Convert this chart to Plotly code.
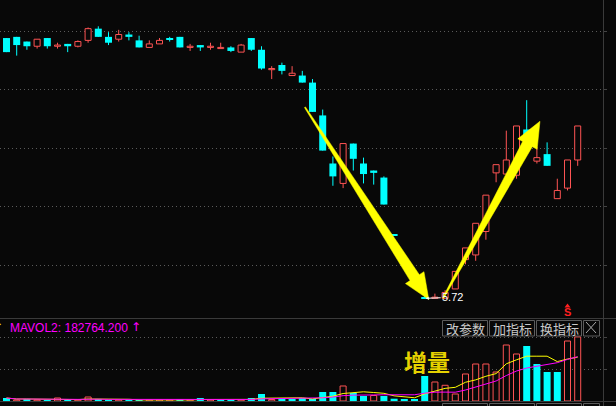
import math
import plotly.graph_objects as go
import pandas as pd

# ---------------- data ----------------
day = list(range(1, 58))
open_ = [7.94, 7.95, 7.91, 7.87, 7.94, 7.87, 7.89, 7.87, 7.92, 8.02,
         7.95, 7.93, 7.97, 7.92, 7.86, 7.89, 7.94, 7.95, 7.86, 7.88,
         7.86, 7.85, 7.86, 7.82, 7.94, 7.84, 7.67, 7.71, 7.62, 7.62,
         7.56, 7.28, 6.87, 6.70, 7.04, 6.87, 6.81, 6.75, 6.26, 6.05,
         5.83, 5.73, 5.72, 5.72, 5.80, 6.05, 6.09, 6.29, 6.79, 6.78,
         6.77, 7.16, 6.89, 6.95, 6.57, 6.66, 6.90]
high = [7.94, 7.95, 7.91, 7.93, 7.94, 7.90, 7.89, 7.92, 8.03, 8.04,
        7.99, 8.01, 7.99, 7.96, 7.92, 7.94, 7.95, 7.95, 7.89, 7.88,
        7.90, 7.90, 7.87, 7.89, 7.94, 7.87, 7.70, 7.73, 7.70, 7.66,
        7.59, 7.33, 6.93, 7.04, 7.04, 6.92, 6.81, 6.76, 6.26, 6.05,
        5.83, 5.74, 5.76, 5.79, 5.95, 6.15, 6.36, 6.60, 6.86, 7.15,
        7.19, 7.41, 7.01, 7.05, 6.74, 6.90, 7.19]
low = [7.82, 7.79, 7.84, 7.85, 7.85, 7.85, 7.82, 7.86, 7.90, 7.95,
       7.88, 7.91, 7.92, 7.86, 7.86, 7.89, 7.91, 7.86, 7.83, 7.83,
       7.84, 7.85, 7.82, 7.82, 7.83, 7.67, 7.59, 7.63, 7.62, 7.56,
       7.31, 6.98, 6.68, 6.66, 6.81, 6.70, 6.69, 6.52, 6.26, 6.05,
       5.83, 5.72, 5.72, 5.72, 5.80, 6.01, 6.04, 6.22, 6.71, 6.78,
       6.74, 6.99, 6.87, 6.85, 6.57, 6.64, 6.85]
close = [7.82, 7.88, 7.87, 7.93, 7.87, 7.88, 7.87, 7.91, 8.02, 7.95,
         7.90, 7.97, 7.95, 7.86, 7.89, 7.92, 7.93, 7.86, 7.87, 7.86,
         7.87, 7.86, 7.83, 7.88, 7.84, 7.68, 7.68, 7.66, 7.64, 7.56,
         7.31, 6.98, 6.76, 7.04, 6.91, 6.78, 6.79, 6.52, 6.26, 6.05,
         5.83, 5.72, 5.73, 5.77, 5.95, 6.15, 6.36, 6.60, 6.86, 6.90,
         7.19, 6.99, 6.92, 6.85, 6.64, 6.90, 7.19]
volume = [12400, 4100, 8300, 4100, 4100, 12400, 4100, 4100, 16500, 6200,
          4100, 4100, 4100, 4100, 4100, 4100, 4100, 6200, 4100, 12400,
          4100, 6200, 6200, 4100, 12400, 28900, 6200, 12400, 6200, 12400,
          6200, 37100, 37100, 61900, 33000, 20600, 22700, 20600, 9500, 7000,
          7000, 103100, 78400, 64800, 28900, 111400, 152600, 152600, 119600, 231000,
          193900, 226900, 152600, 119600, 119600, 247500, 264342]
price_grid = [6.0, 6.5, 7.0, 7.5, 8.0]
volume_grid = [132000, 264000]
low_label = "5.72"
mavol2_label = "MAVOL2: 182764.200"
buttons = ["改参数", "加指标", "换指标"]
tag_text = "增量"

# ---------------- styling / geometry ----------------
W, H = 616, 406
BG = "#080808"
RED = "#FF5454"
CYAN = "#00FFFF"
YEL = "#FFFF00"
MAG = "#FF00FF"
GRID = "#5a5a5a"
LINE = "#3a3a3a"
X_RIGHT = 603
X_RANGE = [0.3627, 59.48]
Y_RANGE = [5.5522, 8.2644]
V_RANGE = [0, 334125]
MAIN_DOM = [1 - 318 / H, 1.0]
VOL_DOM = [1 - 401 / H, 1 - 320 / H]

n = len(day)
cdir = []
for i in range(n):
    if close[i] > open_[i]:
        cdir.append(1)
    elif close[i] < open_[i]:
        cdir.append(-1)
    else:
        cdir.append(1 if (i > 0 and close[i] > close[i - 1]) else -1)
vdir = [cdir[0]] + [1 if close[i] > close[i - 1] else (-1 if close[i] < close[i - 1] else cdir[i])
                    for i in range(1, n)]

MINH = 0.009
fig = go.Figure()

# candle wicks
rx, ry, cx, cy = [], [], [], []
for i in range(n):
    top, bot = max(open_[i], close[i]), min(open_[i], close[i])
    if cdir[i] == 1:
        rx += [day[i], day[i], None, day[i], day[i], None]
        ry += [high[i], top, None, bot, low[i], None]
    else:
        cx += [day[i], day[i], None]
        cy += [high[i], low[i], None]
fig.add_trace(go.Scatter(x=rx, y=ry, mode="lines", line=dict(color=RED, width=1),
                         hoverinfo="skip", connectgaps=False))
fig.add_trace(go.Scatter(x=cx, y=cy, mode="lines", line=dict(color=CYAN, width=1),
                         hoverinfo="skip", connectgaps=False))

# candle bodies
ri = [i for i in range(n) if cdir[i] == 1]
ci = [i for i in range(n) if cdir[i] == -1]
fig.add_trace(go.Bar(x=[day[i] for i in ri], base=[open_[i] for i in ri],
                     y=[max(close[i] - open_[i], MINH) for i in ri], width=0.59,
                     marker=dict(color=BG, line=dict(color=RED, width=1))))
fig.add_trace(go.Bar(x=[day[i] for i in ci],
                     base=[min(open_[i], close[i]) - (MINH / 2 if open_[i] == close[i] else 0) for i in ci],
                     y=[max(open_[i] - close[i], MINH) for i in ci], width=0.686,
                     marker=dict(color=CYAN, line=dict(width=0))))

# volume bars
vr = [i for i in range(n) if vdir[i] == 1]
vc = [i for i in range(n) if vdir[i] == -1]
fig.add_trace(go.Bar(x=[day[i] for i in vr], y=[volume[i] for i in vr], width=0.59,
                     xaxis="x2", yaxis="y2",
                     marker=dict(color=BG, line=dict(color=RED, width=1))))
fig.add_trace(go.Bar(x=[day[i] for i in vc], y=[volume[i] for i in vc], width=0.686,
                     xaxis="x2", yaxis="y2",
                     marker=dict(color=CYAN, line=dict(width=0))))

vs = pd.Series(volume, dtype=float)
ma5 = vs.rolling(5, min_periods=1).mean().tolist()
ma10 = vs.rolling(10, min_periods=1).mean().tolist()
fig.add_trace(go.Scatter(x=day, y=ma5, mode="lines", line=dict(color=YEL, width=1),
                         xaxis="x2", yaxis="y2", hoverinfo="skip"))
fig.add_trace(go.Scatter(x=day, y=ma10, mode="lines", line=dict(color=MAG, width=1),
                         xaxis="x2", yaxis="y2", hoverinfo="skip"))


# ---------------- helpers for decorations ----------------
def data_px(xv, yv):
    px = (xv - X_RANGE[0]) / (X_RANGE[1] - X_RANGE[0]) * X_RIGHT
    fy = MAIN_DOM[0] + (yv - Y_RANGE[0]) / (Y_RANGE[1] - Y_RANGE[0]) * (MAIN_DOM[1] - MAIN_DOM[0])
    return px, (1 - fy) * H


def paper(px, py):
    return px / W, 1 - py / H


def arrow_path(tail, tip, head_len=26, head_half=11, neck_half=5.5, tail_half=0.6):
    tx, ty = data_px(*tail)
    px_, py_ = data_px(*tip)
    dx, dy = px_ - tx, py_ - ty
    L = math.hypot(dx, dy)
    ux, uy = dx / L, dy / L
    nx, ny = -uy, ux
    bx, by = px_ - ux * head_len, py_ - uy * head_len
    pts = [(tx + nx * tail_half, ty + ny * tail_half),
           (bx + nx * neck_half, by + ny * neck_half),
           (bx + nx * head_half, by + ny * head_half),
           (px_, py_),
           (bx - nx * head_half, by - ny * head_half),
           (bx - nx * neck_half, by - ny * neck_half),
           (tx - nx * tail_half, ty - ny * tail_half)]
    pp = [paper(a, b) for a, b in pts]
    return "M " + " L ".join(f"{a:.5f},{b:.5f}" for a, b in pp) + " Z"


shapes = []
# panel lines
shapes.append(dict(type="line", xref="paper", yref="paper", x0=0, x1=1,
                   y0=1 - 318.5 / H, y1=1 - 318.5 / H, line=dict(color=LINE, width=1)))
shapes.append(dict(type="line", xref="paper", yref="paper", x0=0, x1=1,
                   y0=1 - 401.5 / H, y1=1 - 401.5 / H, line=dict(color=LINE, width=1)))
shapes.append(dict(type="line", xref="paper", yref="paper", x0=603.5 / W, x1=603.5 / W,
                   y0=0, y1=1, line=dict(color=LINE, width=1)))

# yellow arrows
shapes.append(dict(type="path", xref="paper", yref="paper",
                   path=arrow_path((30.26, 7.35), (42.4, 5.71)),
                   fillcolor=YEL, line=dict(color=YEL, width=0.5)))
shapes.append(dict(type="path", xref="paper", yref="paper",
                   path=arrow_path((43.8, 5.72), (53.3, 7.23)),
                   fillcolor=YEL, line=dict(color=YEL, width=0.5)))

# buttons
btn_x = [(442, 487), (489, 534), (536, 581)]
for (x0, x1) in btn_x + [(583, 599)]:
    for (y0, y1) in [(320, 335.5), (403, 420)]:
        a0, b0 = paper(x0 + 0.5, y0 + 0.5)
        a1, b1 = paper(x1 + 0.5, y1 + 0.5)
        shapes.append(dict(type="rect", xref="paper", yref="paper", x0=a0, x1=a1, y0=b0, y1=b1,
                           line=dict(color="#5c5c5c", width=1), fillcolor="rgba(0,0,0,0)"))
# close "X"
for (xa, ya, xb, yb) in [(586, 322, 596, 333), (586, 333, 596, 322)]:
    a0, b0 = paper(xa, ya)
    a1, b1 = paper(xb, yb)
    shapes.append(dict(type="line", xref="paper", yref="paper", x0=a0, y0=b0, x1=a1, y1=b1,
                       line=dict(color="#aaaaaa", width=1)))

# S signal triangle
sx, _ = data_px(56, 6.0)
shapes.append(dict(type="path", xref="paper", yref="paper",
                   path="M {:.5f},{:.5f} L {:.5f},{:.5f} L {:.5f},{:.5f} Z".format(
                       *paper(sx - 3, 307.5), *paper(sx + 3, 307.5), *paper(sx, 303.5)),
                   fillcolor="#FF2020", line=dict(width=0)))

annotations = []
for txt, (x0, x1) in zip(buttons, btn_x):
    ax_, ay_ = paper((x0 + x1) / 2 + 0.5, 328)
    annotations.append(dict(x=ax_, y=ay_, xref="paper", yref="paper", text=txt, showarrow=False,
                            font=dict(family="Noto Sans CJK SC", size=13, color="#c8c8c8"),
                            xanchor="center", yanchor="middle"))

a, b = paper(9, 328)
annotations.append(dict(x=a, y=b, xref="paper", yref="paper", text=mavol2_label, showarrow=False,
                        font=dict(family="Liberation Sans, Arial", size=12, color=MAG),
                        xanchor="left", yanchor="middle", borderpad=0))
a, b = paper(135.5, 327)
annotations.append(dict(x=a, y=b, xref="paper", yref="paper", text="↑", showarrow=False,
                        font=dict(family="DejaVu Sans", size=12, color=MAG),
                        xanchor="center", yanchor="middle", borderpad=0))
a, b = paper(4, 327)
annotations.append(dict(x=a, y=b, xref="paper", yref="paper", text="↑", showarrow=False,
                        font=dict(family="DejaVu Sans", size=12, color=YEL),
                        xanchor="right", yanchor="middle", borderpad=0))
a, b = paper(426.5, 360.5)
annotations.append(dict(x=a, y=b, xref="paper", yref="paper", text="<b>" + tag_text + "</b>",
                        showarrow=False,
                        font=dict(family="Noto Sans CJK SC", size=23, color="#E6D200"),
                        xanchor="center", yanchor="middle"))
# low label
lo_i = low.index(min(low))
annotations.append(dict(x=day[lo_i], y=low[lo_i], xref="x", yref="y", text=low_label,
                        showarrow=True, arrowhead=2, arrowsize=0.6, arrowwidth=1, arrowcolor="#ffffff",
                        ax=28, ay=-1, standoff=1,
                        font=dict(family="Liberation Sans, Arial", size=11, color="#ffffff")))
# S signal
a, b = paper(sx, 312)
annotations.append(dict(x=a, y=b, xref="paper", yref="paper", text="<b>S</b>", showarrow=False,
                        font=dict(family="Liberation Sans, Arial", size=11, color="#FF2020"),
                        xanchor="center", yanchor="middle", borderpad=0))

axis_common = dict(showgrid=False, zeroline=False, showticklabels=False, showline=False, ticks="")
fig.update_layout(
    width=W, height=H, margin=dict(l=0, r=0, t=0, b=0),
    paper_bgcolor=BG, plot_bgcolor=BG, showlegend=False, barmode="overlay",
    xaxis=dict(domain=[0, X_RIGHT / W], range=X_RANGE, anchor="y", **axis_common),
    xaxis2=dict(domain=[0, X_RIGHT / W], range=X_RANGE, anchor="y2", **axis_common),
    yaxis=dict(domain=MAIN_DOM, range=Y_RANGE, tickvals=price_grid, showgrid=True,
               gridcolor=GRID, griddash="1px,3px", gridwidth=1, zeroline=False,
               showticklabels=False, side="right", ticks="outside", ticklen=3, tickcolor="#444444"),
    yaxis2=dict(domain=VOL_DOM, range=V_RANGE, tickvals=volume_grid, showgrid=True,
                gridcolor=GRID, griddash="1px,3px", gridwidth=1, zeroline=False,
                showticklabels=False, side="right", ticks="outside", ticklen=3, tickcolor="#444444"),
    shapes=shapes, annotations=annotations, hovermode=False,
)
fig.write_html("out.html", config={"displayModeBar": False},
               post_script="document.body.style.margin='0';document.body.style.background='#080808';")
